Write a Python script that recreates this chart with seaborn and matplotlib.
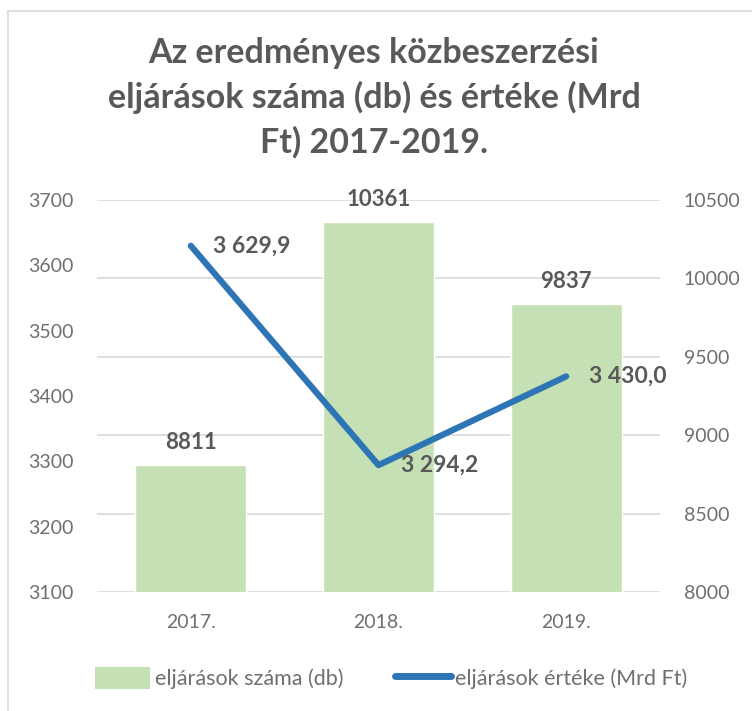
import matplotlib
matplotlib.use("Agg")
import matplotlib.pyplot as plt
import seaborn as sns
import pandas as pd
from matplotlib.patches import Patch
from matplotlib.lines import Line2D

years = ["2017.", "2018.", "2019."]
counts = [8811, 10361, 9837]
values = [3629.9, 3294.2, 3430.0]
value_labels = ["3 629,9", "3 294,2", "3 430,0"]
title = "Az eredményes közbeszerzési\neljárások száma (db) és értéke (Mrd\nFt) 2017-2019."
bar_name = "eljárások száma (db)"
line_name = "eljárások értéke (Mrd Ft)"

sns.set_theme(style="white")
plt.rcParams['font.family'] = ['Lato', 'DejaVu Sans']

gray = "#595959"
tick_gray = "#6f6f6f"
bar_color = "#C5E0B4"
line_color = "#2E75B6"

W, H = 752, 711
fig = plt.figure(figsize=(W/100, H/100), dpi=100)
ax = fig.add_axes([97/W, (H-592)/H, 563/W, 392/H])
ax2 = ax.twinx()

df = pd.DataFrame({"year": years, "count": counts, "value": values})

sns.barplot(data=df, x="year", y="count", color=bar_color, width=0.59,
            saturation=1, ax=ax, zorder=2)
ax.set_ylim(8000, 10500)
ax.set_yticks(range(8000, 10501, 500))
ax.yaxis.tick_right()
ax.yaxis.set_label_position("right")
ax.grid(axis="y", color="#D9D9D9", linewidth=1.2, zorder=0)
ax.set_axisbelow(True)
for i, c in enumerate(counts):
    ax.text(i, c + 75, str(c), ha="center", va="bottom", fontsize=16,
            color=gray, fontweight="bold")

sns.lineplot(data=df, x="year", y="value", color=line_color, linewidth=4.5,
             sort=False, ax=ax2, solid_capstyle="round")
ax2.set_ylim(3100, 3700)
ax2.set_yticks(range(3100, 3701, 100))
ax2.yaxis.tick_left()
ax2.yaxis.set_label_position("left")
for i, (v, lab) in enumerate(zip(values, value_labels)):
    ax2.text(i + 0.12, v, lab, ha="left", va="center", fontsize=16.5,
             color=gray, fontweight="bold")

for a in (ax, ax2):
    a.set_xlabel("")
    a.set_ylabel("")
    for s in a.spines.values():
        s.set_visible(False)
    a.tick_params(axis="both", length=0, labelsize=14, labelcolor=tick_gray, pad=17)
ax.tick_params(axis="x", pad=16)
ax.set_xlim(-0.5, 2.5)
ax2.grid(False)

fig.text(374/W, 1 - 98/H, title, ha="center", va="center", fontsize=24.5,
         fontweight="bold", color=gray, linespacing=1.45)

handles = [Patch(facecolor=bar_color, edgecolor="none"),
           Line2D([0], [0], color=line_color, linewidth=5, solid_capstyle="round")]
fig.legend(handles, [bar_name, line_name], loc="center", ncol=2,
           bbox_to_anchor=(391/W, 1 - 678/H), frameon=False, fontsize=15.5,
           labelcolor=tick_gray, handlelength=2.6, handleheight=1.2,
           handletextpad=0.2, columnspacing=2.4)

fig.add_artist(Line2D([8/W, 8/W], [0, 1 - 11/H], color="#D9D9D9", linewidth=1.2,
                      transform=fig.transFigure))
fig.add_artist(Line2D([8/W, 1], [1 - 11/H, 1 - 11/H], color="#D9D9D9", linewidth=1.2,
                      transform=fig.transFigure))

fig.savefig("out.png", dpi=100, facecolor="white")
